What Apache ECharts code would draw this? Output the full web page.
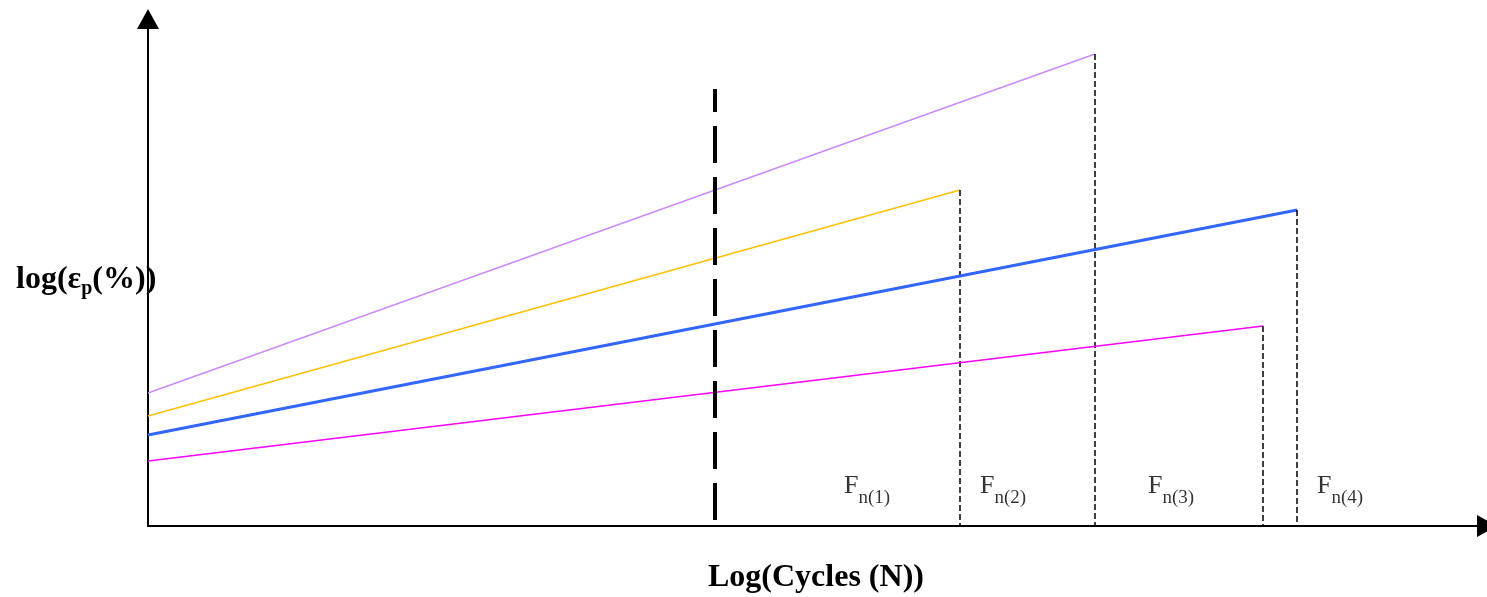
<!DOCTYPE html>
<html>
<head>
<meta charset="utf-8">
<script src="https://cdn.jsdelivr.net/npm/echarts@6/dist/echarts.min.js"></script>
<style>
html,body{margin:0;padding:0;background:#fff;}
#chart{width:1487px;height:597px;}
</style>
</head>
<body>
<div id="chart"></div>
<script>
// Schematic data (units: abstract log-scale positions)
const lineNames = ['Curve A', 'Curve B', 'Curve C', 'Curve D'];
const lineColors = ['#c98cff', '#ffc000', '#3366ff', '#ff00ff'];
const lineWidths = [1.5, 1.5, 3, 1.5];
const startX = [0, 0, 0, 0];
const startY = [133, 110, 91, 65];
const failX = [947, 812, 1149, 1115];
const failY = [472, 336, 316, 200];

const refLineX = 567;       // thick dashed reference line
const refLineTop = 437;

const fnLabels = ['1', '2', '3', '4'];
const fnLabelX = [696, 832, 1000, 1169];
const fnLabelY = 53;

const xTitle = 'Log(Cycles (N))';
const yTitle = ['log(ε', 'p', '(%))'];

const serif = "'Liberation Serif','Times New Roman',serif";

const series = [];
lineNames.forEach((n, i) => {
  series.push({
    name: n, type: 'line', symbol: 'none', silent: true,
    data: [[startX[i], startY[i]], [failX[i], failY[i]]],
    lineStyle: { color: lineColors[i], width: lineWidths[i] }
  });
  series.push({
    name: n + ' failure', type: 'line', symbol: 'none', silent: true,
    data: [[failX[i], failY[i]], [failX[i], 0]],
    lineStyle: { color: '#000', width: 1.5, type: [6, 3] }
  });
});
series.push({
  name: 'reference', type: 'line', symbol: 'none', silent: true,
  data: [[refLineX, refLineTop], [refLineX, 0]],
  lineStyle: { color: '#000', width: 4, type: [37, 14], dashOffset: 14 }
});
series.push({
  name: 'labels', type: 'scatter', symbolSize: 0, silent: true,
  data: fnLabels.map((l, i) => ({ value: [fnLabelX[i], fnLabelY], name: l })),
  label: {
    show: true, position: [0, 0], align: 'left', verticalAlign: 'top', color: '#000',
    formatter: p => '{f|F}{s|n(' + p.name + ')}',
    rich: {
      f: { fontFamily: serif, fontSize: 26, lineHeight: 26, verticalAlign: 'top', color: '#000' },
      s: { fontFamily: serif, fontSize: 19, lineHeight: 35, verticalAlign: 'bottom', color: '#000' }
    }
  }
});

const chart = echarts.init(document.getElementById('chart'), null, { renderer: 'canvas' });
chart.setOption({
  animation: false,
  backgroundColor: '#fff',
  grid: { left: 148, right: 0, top: 19, bottom: 71 },
  xAxis: {
    type: 'value', min: 0, max: 1339,
    axisLine: { show: true, onZero: false, lineStyle: { color: '#000', width: 2 }, symbol: ['none', 'triangle'], symbolSize: [22, 20] },
    axisTick: { show: false }, axisLabel: { show: false }, splitLine: { show: false }
  },
  yAxis: {
    type: 'value', min: 0, max: 507,
    axisLine: { show: true, onZero: false, lineStyle: { color: '#000', width: 2 }, symbol: ['none', 'triangle'], symbolSize: [22, 20] },
    axisTick: { show: false }, axisLabel: { show: false }, splitLine: { show: false }
  },
  graphic: [
    {
      type: 'text', left: 16, top: 264, z: 100,
      style: {
        text: '{a|' + yTitle[0] + '}{s|' + yTitle[1] + '}{a|' + yTitle[2] + '}',
        rich: {
          a: { fontFamily: serif, fontSize: 32, fontWeight: 'bold', lineHeight: 32, fill: '#000' },
          s: { fontFamily: serif, fontSize: 20, fontWeight: 'bold', lineHeight: 37, verticalAlign: 'bottom', fill: '#000' }
        }
      }
    },
    {
      type: 'text', left: 708, top: 562, z: 100,
      style: { text: xTitle, font: 'bold 32px ' + serif, fill: '#000' }
    }
  ],
  series: series
});
</script>
</body>
</html>
